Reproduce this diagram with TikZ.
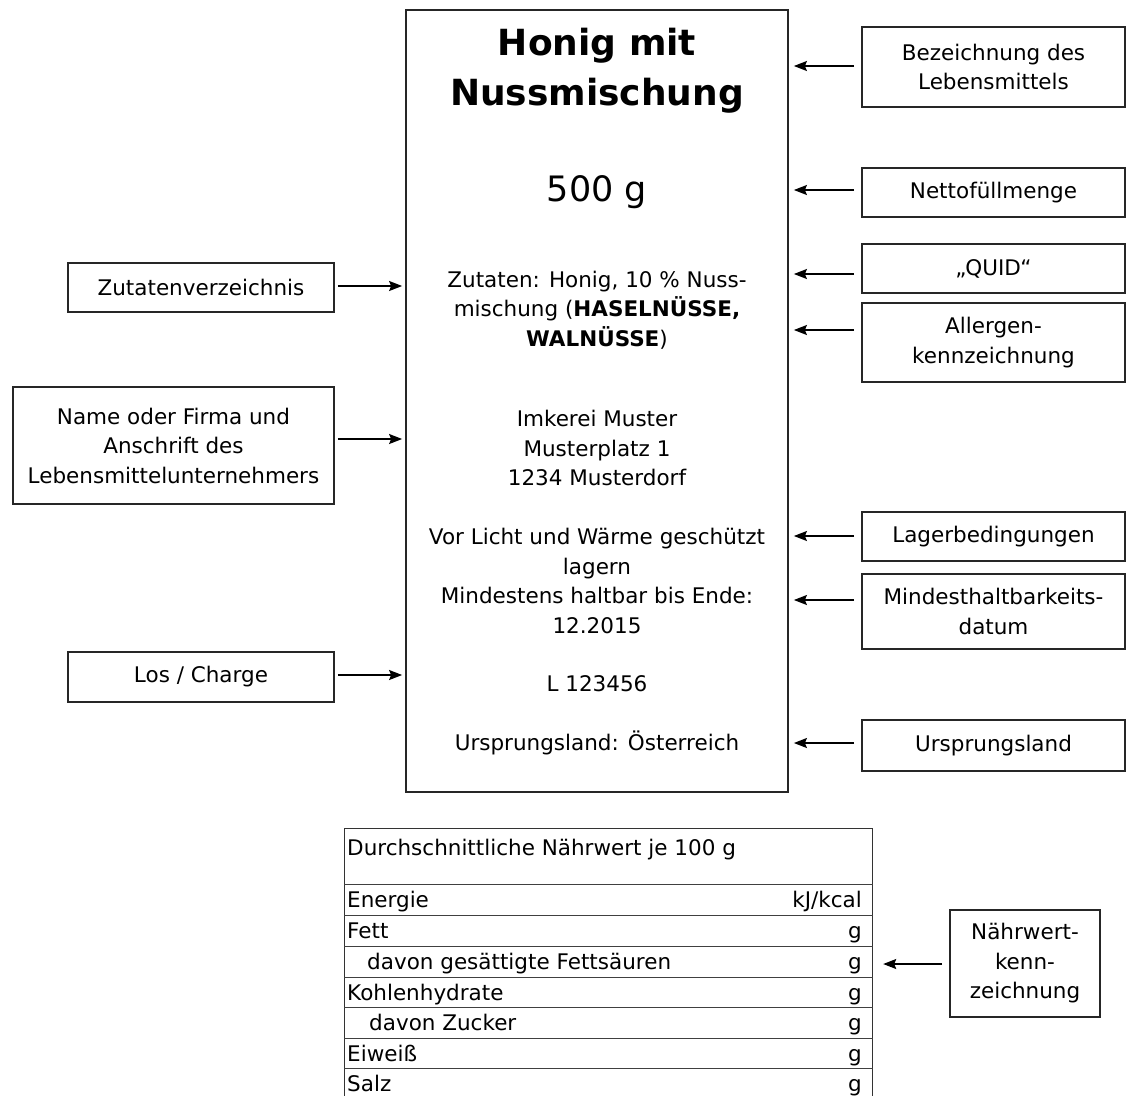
\documentclass[tikz,border=0pt]{standalone}
\usepackage{fontspec}
\setmainfont{DejaVu Sans}
\usetikzlibrary{arrows.meta,calc}
\begin{document}
\begin{tikzpicture}[x=1pt,y=-1pt,
  lbl/.style={draw=black!85, line width=1.6pt, inner sep=0pt, align=center,
    font=\fontsize{21.5}{29.5}\selectfont},
  txt/.style={inner sep=0pt, align=center, font=\fontsize{21.5}{29.5}\selectfont},
  arr/.style={draw=black, line width=1.4pt, -{Stealth[length=13pt,width=10pt,inset=2pt]}},
  rgt/.style={arr, shorten <=7pt, shorten >=5pt},
  lft/.style={arr, shorten <=3pt, shorten >=3pt},
  cellL/.style={anchor=west, inner sep=0pt, text height=15.5pt, text depth=4.5pt,
    font=\fontsize{21.5}{25}\selectfont},
  cellR/.style={anchor=east, inner sep=0pt, text height=15.5pt, text depth=4.5pt,
    font=\fontsize{21.5}{25}\selectfont},
  rule/.style={draw=black!75, line width=1pt}]
\useasboundingbox (0,0) rectangle (1126,1095);
\fill[white] (0,0) rectangle (1126,1095);

% main label
\node[draw=black!85, line width=1.8pt, minimum width=382, minimum height=782, inner sep=0pt] (main) at (597,401) {};
\node[inner sep=0pt, align=center, font=\bfseries\fontsize{36}{50}\selectfont] (title) at (597,70.5) {Honig mit\\Nussmischung};
\node[inner sep=0pt, font=\fontsize{35}{40}\selectfont] (net) at (597,192.5) {500 g};
\node[txt] (zut) at (597,310) {Zutaten: Honig, 10 \% Nuss-\\mischung (\textbf{HASELNÜSSE,}\\\textbf{WALNÜSSE})};
\node[txt] (adr) at (597,448) {Imkerei Muster\\Musterplatz 1\\1234 Musterdorf};
\node[txt] (lag) at (597,581) {Vor Licht und Wärme geschützt\\lagern\\Mindestens haltbar bis Ende:\\12.2015};
\node[txt] (lot) at (597,683.5) {L 123456};
\node[txt] (urs) at (597,742.5) {Ursprungsland: Österreich};

% right labels
\node[lbl, minimum width=263, minimum height=80] (bez) at (993.5,67) {Bezeichnung des\\Lebensmittels};
\node[lbl, minimum width=263, minimum height=49] (netl) at (993.5,192.5) {Nettofüllmenge};
\node[lbl, minimum width=263, minimum height=49] (quid) at (993.5,268.5) {„QUID“};
\node[lbl, minimum width=263, minimum height=79] (all) at (993.5,342.5) {Allergen-\\kennzeichnung};
\node[lbl, minimum width=263, minimum height=49] (lagl) at (993.5,536.5) {Lagerbedingungen};
\node[lbl, minimum width=263, minimum height=75] (mhd) at (993.5,611.5) {Mindesthaltbarkeits-\\datum};
\node[lbl, minimum width=263, minimum height=51] (ursl) at (993.5,745.5) {Ursprungsland};

% left labels
\node[lbl, minimum width=266, minimum height=49] (zutl) at (201,287.5) {Zutatenverzeichnis};
\node[lbl, minimum width=321, minimum height=117] (name) at (173.5,445.5) {Name oder Firma und\\Anschrift des\\Lebensmittelunternehmers};
\node[lbl, minimum width=266, minimum height=50] (los) at (201,677) {Los / Charge};

% nutrition label
\node[lbl, minimum width=150, minimum height=107] (nw) at (1025,963.5) {Nährwert-\\kenn-\\zeichnung};

% arrow anchor points
\coordinate (pbez) at ($(bez.west)+(0,-1)$);
\coordinate (pnet) at ($(netl.west)+(0,-2.5)$);
\coordinate (pquid) at ($(quid.west)+(0,5.5)$);
\coordinate (pall) at ($(all.west)+(0,-12.5)$);
\coordinate (plag) at ($(lagl.west)+(0,-0.5)$);
\coordinate (pmhd) at ($(mhd.west)+(0,-11.5)$);
\coordinate (purs) at ($(ursl.west)+(0,-2.5)$);
\coordinate (pzut) at ($(zutl.east)+(0,-1.5)$);
\coordinate (pname) at ($(name.east)+(0,-6.5)$);
\coordinate (plos) at ($(los.east)+(0,-2)$);
\coordinate (pnw) at ($(nw.west)+(0,0.5)$);

\draw[rgt] (pbez) -- (pbez -| main.east);
\draw[rgt] (pnet) -- (pnet -| main.east);
\draw[rgt] (pquid) -- (pquid -| main.east);
\draw[rgt] (pall) -- (pall -| main.east);
\draw[rgt] (plag) -- (plag -| main.east);
\draw[rgt] (pmhd) -- (pmhd -| main.east);
\draw[rgt] (purs) -- (purs -| main.east);
\draw[lft] (pzut) -- (pzut -| main.west);
\draw[lft] (pname) -- (pname -| main.west);
\draw[lft] (plos) -- (plos -| main.west);

% table
\begin{scope}
\clip (0,0) rectangle (1126,1095);
\node[draw=black!80, line width=1.2pt, minimum width=528, minimum height=270, inner sep=0pt, anchor=north west] (tab) at (344,828) {};
\foreach \yy in {884,915,946,977,1007,1038,1068} {
  \draw[rule] (tab.west |- 0,\yy) -- (tab.east |- 0,\yy);
}
\end{scope}
\draw[rgt, shorten <=7pt, shorten >=10pt] (pnw) -- (pnw -| tab.east);

\node[cellL] (h0) at (347,849.5) {Durchschnittliche Nährwert je 100 g};
\node[cellL] (l1) at (347,902) {Energie};
\node[cellR] (r1) at (862,902) {kJ/kcal};
\node[cellL] (l2) at (347,933) {Fett};
\node[cellR] (r2) at (862,933) {g};
\node[cellL] (l3) at (367,964) {davon gesättigte Fettsäuren};
\node[cellR] (r3) at (862,964) {g};
\node[cellL] (l4) at (347,994.5) {Kohlenhydrate};
\node[cellR] (r4) at (862,994.5) {g};
\node[cellL] (l5) at (369,1025) {davon Zucker};
\node[cellR] (r5) at (862,1025) {g};
\node[cellL] (l6) at (347,1055.5) {Eiweiß};
\node[cellR] (r6) at (862,1055.5) {g};
\node[cellL] (l7) at (347,1085.5) {Salz};
\node[cellR] (r7) at (862,1085.5) {g};
\end{tikzpicture}
\end{document}
